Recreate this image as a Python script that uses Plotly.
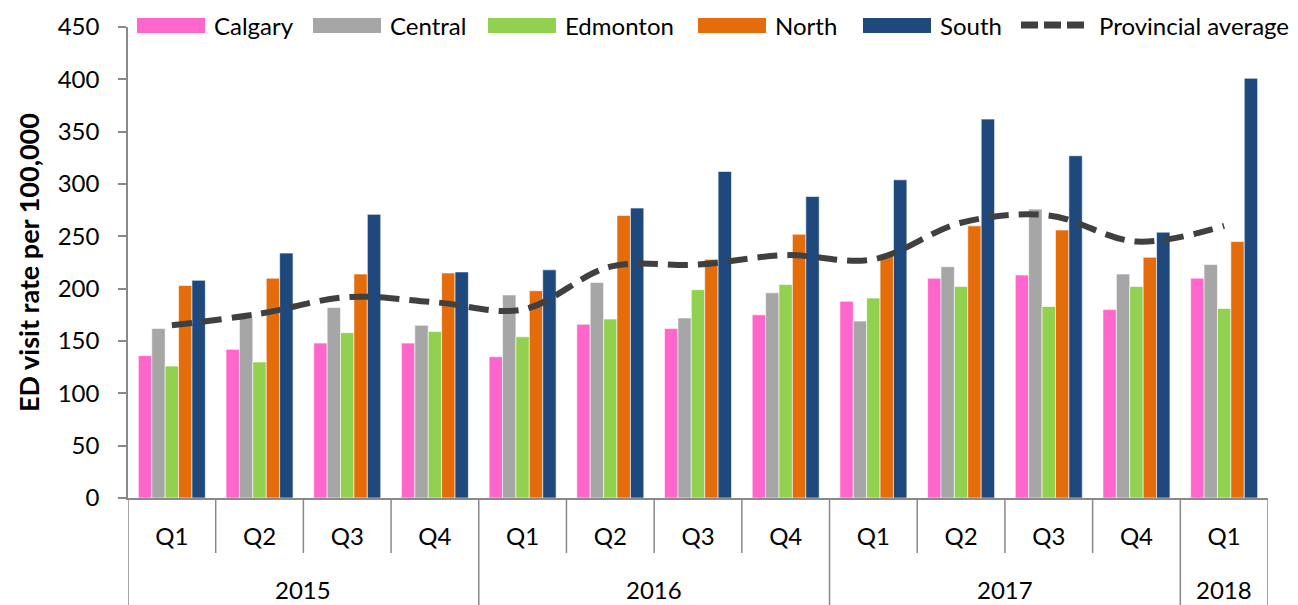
import plotly.graph_objects as go

years = ["2015"] * 4 + ["2016"] * 4 + ["2017"] * 4 + ["2018"]
quarters = ["Q1", "Q2", "Q3", "Q4"] * 3 + ["Q1"]

calgary = [136, 142, 148, 148, 135, 166, 162, 175, 188, 210, 213, 180, 210]
central = [162, 172, 182, 165, 194, 206, 172, 196, 169, 221, 276, 214, 223]
edmonton = [126, 130, 158, 159, 154, 171, 199, 204, 191, 202, 183, 202, 181]
north = [203, 210, 214, 215, 198, 270, 228, 252, 231, 260, 256, 230, 245]
south = [208, 234, 271, 216, 218, 277, 312, 288, 304, 362, 327, 254, 401]
provincial = [165, 176, 192, 187, 180, 221, 223, 232, 228, 263, 270, 245, 260]

regions = [
    ("Calgary", calgary, "#FF66CC"),
    ("Central", central, "#A6A6A6"),
    ("Edmonton", edmonton, "#92D050"),
    ("North", north, "#E46C0A"),
    ("South", south, "#1F497D"),
]
avg_name, avg_color = "Provincial average", "#404040"

FONT = "Lato"
AXIS_GREY = "#898989"

# page body has an 8px margin, so the figure is drawn a little smaller and
# everything below is laid out in screen pixels of the 1298x605 window
OFFSET = 8
W, H = 1298 - OFFSET, 605 - OFFSET
PLOT_L, PLOT_R, PLOT_T, PLOT_B = 128, 1268, 27, 498


def px_x(sx):
    return (sx - PLOT_L) / (PLOT_R - PLOT_L)


def px_y(sy):
    return (PLOT_B - sy) / (PLOT_B - PLOT_T)


pos = list(range(len(quarters)))

fig = go.Figure()
for name, vals, color in regions:
    fig.add_trace(go.Bar(
        x=pos, y=vals, name=name, showlegend=False,
        marker=dict(color=color, line=dict(color="white", width=0.6)),
    ))

fig.add_trace(go.Scatter(
    x=pos, y=provincial, name=avg_name, mode="lines", showlegend=False,
    line=dict(color=avg_color, width=6, dash="20px,10px", shape="spline", smoothing=1.0),
))

# two-level category axis: quarter boxes, then year dividers reaching the bottom
for i in range(len(quarters) + 1):
    new_year = i == 0 or i == len(quarters) or years[i] != years[i - 1]
    fig.add_shape(
        type="line", xref="x", yref="paper",
        x0=i - 0.5, x1=i - 0.5, y0=0, y1=px_y(605 if new_year else 553),
        line=dict(color=AXIS_GREY, width=1.5),
    )

for yr in dict.fromkeys(years):
    idx = [i for i, y in enumerate(years) if y == yr]
    fig.add_annotation(
        x=sum(idx) / len(idx), y=px_y(589), xref="x", yref="paper",
        text=yr, showarrow=False, font=dict(size=24), yanchor="middle",
    )

# legend drawn Excel-style: wide swatches in one row above the plot
swatch_x = [137, 313, 488, 698, 863]
for (name, _, color), sx in zip(regions, swatch_x):
    fig.add_shape(
        type="rect", xref="paper", yref="paper",
        x0=px_x(sx), x1=px_x(sx + 68), y0=px_y(33), y1=px_y(18),
        fillcolor=color, line=dict(width=0),
    )
    fig.add_annotation(
        x=px_x(sx + 75), y=px_y(25), xref="paper", yref="paper",
        text=name, showarrow=False, xanchor="left", yanchor="middle",
        font=dict(size=24),
    )
fig.add_shape(
    type="line", xref="paper", yref="paper",
    x0=px_x(1021), x1=px_x(1085), y0=px_y(25), y1=px_y(25),
    line=dict(color=avg_color, width=7, dash="17px,6px"),
)
fig.add_annotation(
    x=px_x(1097), y=px_y(25), xref="paper", yref="paper",
    text=avg_name, showarrow=False, xanchor="left", yanchor="middle",
    font=dict(size=24),
)

fig.update_layout(
    width=W, height=H,
    plot_bgcolor="white", paper_bgcolor="white",
    font=dict(family=FONT, size=24, color="black"),
    barmode="group", bargap=0.236, bargroupgap=0,
    margin=dict(l=PLOT_L - OFFSET, r=1298 - PLOT_R, t=PLOT_T - OFFSET,
                b=605 - PLOT_B, autoexpand=False),
    showlegend=False,
)

fig.update_yaxes(
    range=[0, 450], dtick=50, showgrid=False, zeroline=False,
    showline=True, linecolor=AXIS_GREY, linewidth=1.5,
    ticks="outside", ticklen=8, tickcolor=AXIS_GREY, tickwidth=1.5,
    ticklabelstandoff=14, tickfont=dict(size=24),
    title=dict(text="<b>ED visit rate per 100,000</b>", font=dict(size=27), standoff=10),
)

fig.update_xaxes(
    range=[-0.5, len(quarters) - 0.5], showgrid=False, zeroline=False,
    showline=True, linecolor=AXIS_GREY, linewidth=1.5,
    tickvals=pos, ticktext=quarters, ticks="", ticklabelstandoff=16,
    tickfont=dict(size=24),
)

fig.write_html("out.html")
